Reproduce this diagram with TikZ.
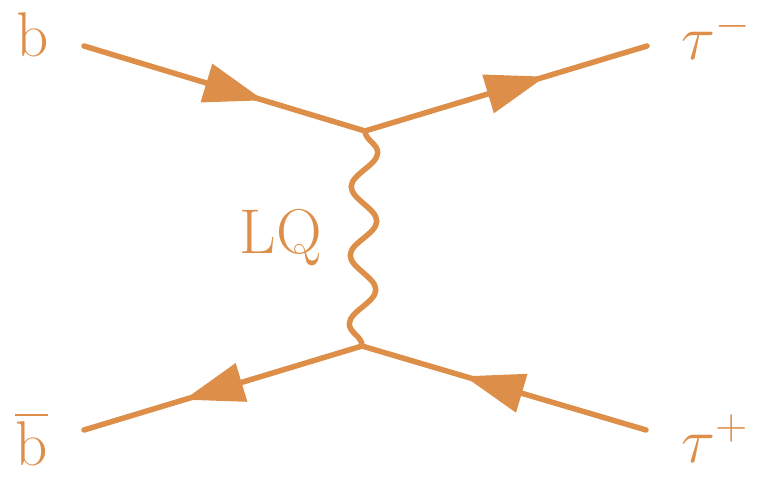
\RequirePackage{fix-cm}
\documentclass[tikz,border=0pt]{standalone}
\usepackage{amsmath}
\usetikzlibrary{arrows.meta, decorations.markings, decorations.pathmorphing}

\definecolor{lqorange}{RGB}{221,142,72}

\tikzset{
  fermion/.style={color=lqorange, line width=0.11cm, line cap=round,
    postaction={decorate},
    decoration={markings, mark=at position 0.64 with
      {\arrow{Triangle[length=1.2cm, width=0.78cm]}}}},
  boson/.style={color=lqorange, line width=0.11cm, line cap=round,
    decorate, decoration={snake, amplitude=0.26cm, segment length=1.373cm}},
  lbl/.style={text=lqorange, inner sep=0pt, font=\fontsize{36}{40}\selectfont}
}

\begin{document}
\begin{tikzpicture}[x=0.02cm, y=-0.02cm]
  \useasboundingbox (0,0) rectangle (766,476);
  % vertices and external ends
  \coordinate (vtop) at (365,131);
  \coordinate (vbot) at (362,346);
  \coordinate (bin) at (84,46);
  \coordinate (bbarin) at (84,430);
  \coordinate (taum) at (647,46);
  \coordinate (taup) at (646,430);
  % lines
  \draw[fermion] (bin) -- (vtop);
  \draw[fermion] (vtop) -- (taum);
  \draw[fermion] (vbot) -- (bbarin);
  \draw[fermion] (taup) -- (vbot);
  \draw[boson] (vtop) -- (vbot);
  % labels
  \node[lbl, anchor=base west] (lb) at (16,57) {b};
  \node[lbl, anchor=base west] (lbbar) at (15,465) {$\overline{\mathrm{b}}$};
  \node[lbl, anchor=base west] (ltaum) at (681,60) {$\tau^{-}$};
  \node[lbl, anchor=base west] (ltaup) at (681,462) {$\tau^{+}$};
  \node[lbl, anchor=base east] (llq) at (322,253) {LQ};
\end{tikzpicture}
\end{document}
